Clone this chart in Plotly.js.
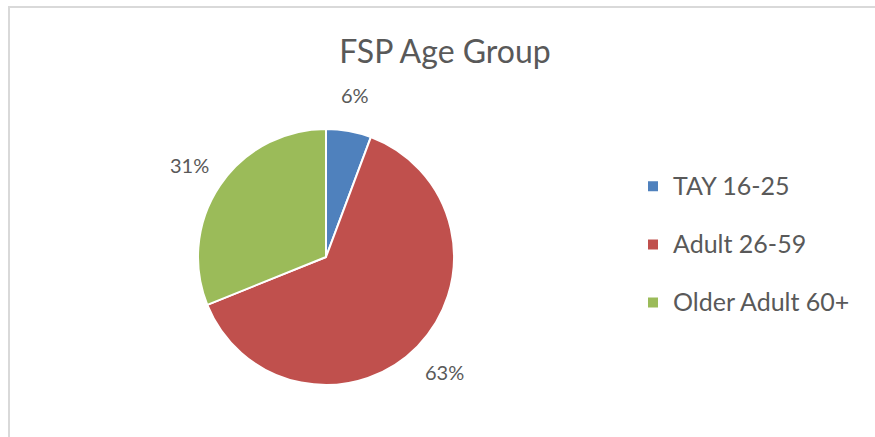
<!DOCTYPE html>
<html>
<head>
<meta charset="utf-8">
<script src="https://cdn.plot.ly/plotly-3.0.1.min.js"></script>
<style>
  html, body { margin: 0; padding: 0; background: #ffffff; }
  #frame { position: absolute; left: 0; top: 0; width: 875px; height: 437px; }
  #border { position: absolute; left: 8px; top: 6px; width: 867px; height: 431px;
            border-left: 2px solid #d9d9d9; border-top: 2px solid #d9d9d9; box-sizing: border-box; pointer-events: none; }
  #chart { position: absolute; left: 0; top: 0; width: 875px; height: 437px; }
</style>
</head>
<body>
<div id="frame">
  <div id="chart"></div>
  <div id="border"></div>
</div>
<script>
const chartTitle = "FSP Age Group";
const categories = ["TAY 16-25", "Adult 26-59", "Older Adult 60+"];
const shares = [5.7, 63.2, 31.1];
const sliceColors = ["#4F81BD", "#C0504D", "#9BBB59"];

const W = 875, H = 437;
const cx = 326, cy = 257, r = 128;
const FONT = "Lato, 'Open Sans', sans-serif";

// legend labels: category name plus a spacer line so entries sit farther apart
const legendLabels = categories.map(c => "<span style='font-size:25px'>" + c + "</span><br>\u00a0");

const data = [{
  type: "pie",
  labels: legendLabels,
  values: shares,
  sort: false,
  direction: "clockwise",
  rotation: 0,
  marker: { colors: sliceColors, line: { color: "#ffffff", width: 2 } },
  textinfo: "none",
  automargin: false,
  hoverinfo: "percent",
  domain: { x: [(cx - r) / W, (cx + r) / W], y: [(H - cy - r) / H, (H - cy + r) / H] }
}];

// percentage labels placed outside each slice, at the slice's mid-angle
const total = shares.reduce((a, b) => a + b, 0);
const labelDist = 165;
let cum = 0;
const annotations = shares.map(v => {
  const mid = (cum + v / 2) / total * 2 * Math.PI;
  cum += v;
  const px = cx + labelDist * Math.sin(mid);
  const py = cy - labelDist * Math.cos(mid);
  return {
    xref: "paper", yref: "paper",
    x: px / W, y: 1 - py / H,
    xanchor: "center", yanchor: "middle",
    text: Math.round(v / total * 100) + "%",
    showarrow: false,
    font: { family: FONT, size: 20, color: "#595959" }
  };
});

const layout = {
  width: W, height: H,
  margin: { l: 0, r: 0, t: 0, b: 0 },
  paper_bgcolor: "#ffffff",
  title: {
    text: chartTitle,
    font: { family: FONT, size: 32, color: "#595959" },
    x: 445 / W, xanchor: "center",
    y: 1 - 52 / H, yanchor: "middle"
  },
  annotations: annotations,
  showlegend: true,
  legend: {
    x: 633 / W, xanchor: "left",
    y: 1 - 166 / H, yanchor: "top",
    valign: "top",
    font: { family: FONT, size: 21.2, color: "#595959" },
    itemwidth: 30,
    bgcolor: "rgba(0,0,0,0)"
  }
};

Plotly.newPlot("chart", data, layout, { displayModeBar: false, staticPlot: true });
</script>
</body>
</html>
